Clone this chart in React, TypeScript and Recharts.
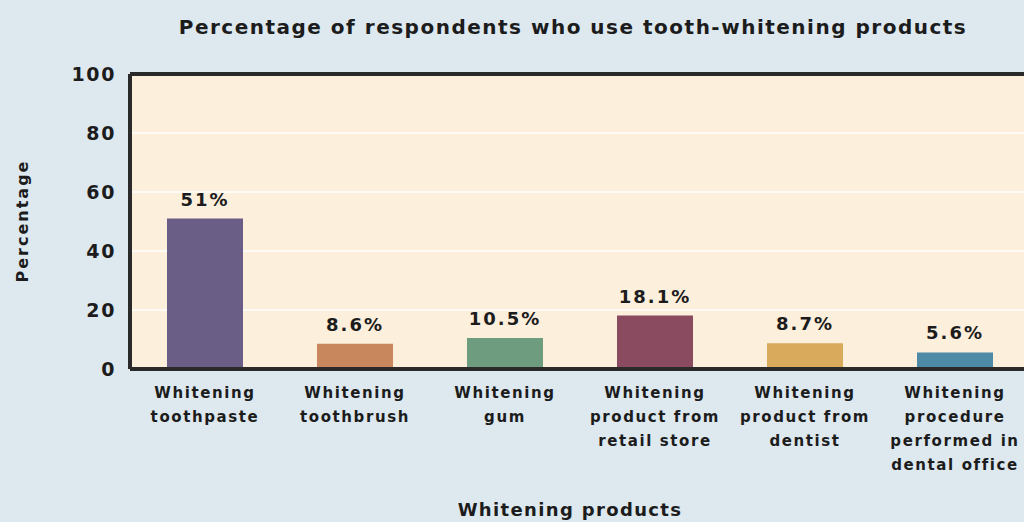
import React from "react";
import {
  BarChart,
  Bar,
  XAxis,
  YAxis,
  CartesianGrid,
  ReferenceLine,
  LabelList,
  Cell,
} from "recharts";

const categories = [
  "Whitening\ntoothpaste",
  "Whitening\ntoothbrush",
  "Whitening\ngum",
  "Whitening\nproduct from\nretail store",
  "Whitening\nproduct from\ndentist",
  "Whitening\nprocedure\nperformed in\ndental office",
];
const values = [51, 8.6, 10.5, 18.1, 8.7, 5.6];
const barColors = ["#6b5e86", "#c8875c", "#6e9c7f", "#8a4a60", "#d9aa5c", "#4d8aa6"];
const yTicks = [0, 20, 40, 60, 80, 100];
const title = "Percentage of respondents who use tooth-whitening products";
const xTitle = "Whitening products";
const yTitle = "Percentage";

const data = categories.map((c, i) => ({ category: c, value: values[i] }));

const FONT = "'DejaVu Sans', sans-serif";
const INK = "#1c1c1c";
const BORDER = "#2a2a2a";

const CatTick = (props: any) => {
  const { x, y, payload } = props;
  const lines = String(payload.value).split("\n");
  return (
    <text
      x={x}
      y={y}
      textAnchor="middle"
      fill={INK}
      fontFamily={FONT}
      fontWeight={700}
      fontSize={15}
      letterSpacing={1.6}
    >
      {lines.map((l, i) => (
        <tspan key={i} x={x} dy={i === 0 ? 29 : 24}>
          {l}
        </tspan>
      ))}
    </text>
  );
};

export default function App() {
  return (
    <div
      style={{
        position: "fixed",
        left: 0,
        top: 0,
        width: 1024,
        height: 522,
        overflow: "hidden",
        background: "#dde8ef",
      }}
    >
      <BarChart
        width={1040}
        height={522}
        data={data}
        margin={{ top: 74, right: 10, bottom: 53, left: 70 }}
      >
        <CartesianGrid
          vertical={false}
          stroke="#ffffff"
          strokeWidth={1.5}
          fill="#fcefdc"
          fillOpacity={1}
        />
        <XAxis
          dataKey="category"
          height={100}
          interval={0}
          tickLine={false}
          tickSize={0}
          tickMargin={0}
          tick={<CatTick />}
          axisLine={{ stroke: BORDER, strokeWidth: 4 }}
        />
        <YAxis
          width={60}
          domain={[0, 100]}
          ticks={yTicks}
          tickLine={false}
          tickSize={0}
          tickMargin={14}
          axisLine={{ stroke: BORDER, strokeWidth: 4 }}
          tick={{
            fill: INK,
            fontSize: 19,
            fontWeight: 700,
            fontFamily: FONT,
            letterSpacing: 1.6,
          }}
        />
        <ReferenceLine y={100} stroke={BORDER} strokeWidth={4} />
        <Bar dataKey="value" barSize={76} isAnimationActive={false}>
          {data.map((d, i) => (
            <Cell key={i} fill={barColors[i]} />
          ))}
          <LabelList
            dataKey="value"
            position="top"
            offset={13}
            formatter={(v: any) => `${v}%`}
            fill={INK}
            fontSize={18}
            fontWeight={700}
            fontFamily={FONT}
            letterSpacing={2}
          />
        </Bar>
      </BarChart>
      <svg
        width={1024}
        height={522}
        style={{ position: "absolute", left: 0, top: 0, pointerEvents: "none" }}
      >
        <text
          x={573}
          y={34}
          textAnchor="middle"
          fill={INK}
          fontFamily={FONT}
          fontWeight={700}
          fontSize={20}
          letterSpacing={1.5}
        >
          {title}
        </text>
        <text
          x={570}
          y={516}
          textAnchor="middle"
          fill={INK}
          fontFamily={FONT}
          fontWeight={700}
          fontSize={18}
          letterSpacing={1.35}
        >
          {xTitle}
        </text>
        <text
          x={0}
          y={0}
          transform="translate(28,221) rotate(-90)"
          textAnchor="middle"
          fill={INK}
          fontFamily={FONT}
          fontWeight={700}
          fontSize={16}
          letterSpacing={2}
        >
          {yTitle}
        </text>
      </svg>
    </div>
  );
}
